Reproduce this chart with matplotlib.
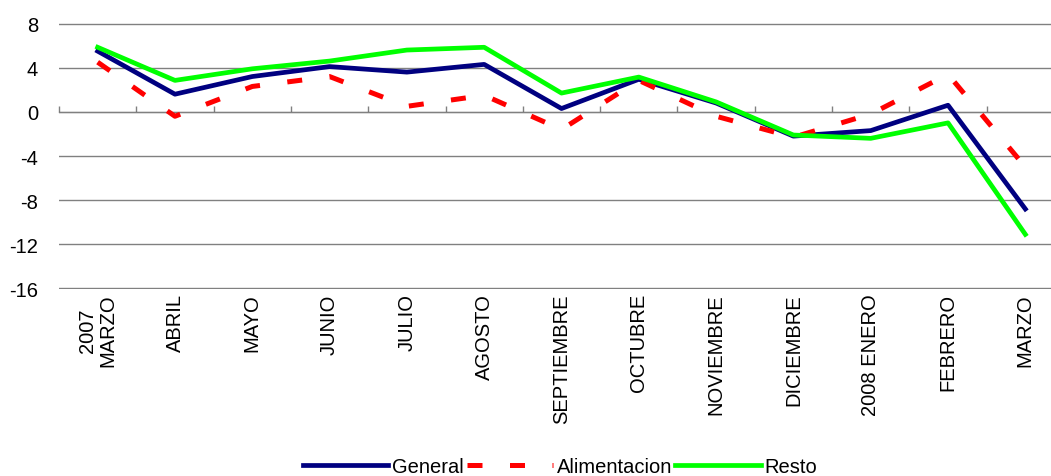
import matplotlib.pyplot as plt
import numpy as np

plt.rcParams['font.family'] = ['Liberation Sans', 'DejaVu Sans']

meses = ['2007\nMARZO', 'ABRIL', 'MAYO', 'JUNIO', 'JULIO', 'AGOSTO', 'SEPTIEMBRE',
         'OCTUBRE', 'NOVIEMBRE', 'DICIEMBRE', '2008 ENERO', 'FEBRERO', 'MARZO']
general = [5.5, 1.6, 3.2, 4.1, 3.6, 4.3, 0.3, 2.95, 0.8, -2.2, -1.7, 0.6, -8.8]
alimentacion = [4.5, -0.4, 2.3, 3.2, 0.5, 1.5, -1.6, 2.85, -0.4, -2.3, -0.2, 3.4, -5.0]
resto = [5.85, 2.85, 3.9, 4.6, 5.6, 5.85, 1.7, 3.15, 0.9, -2.1, -2.4, -1.0, -11.1]
yticks = [8, 4, 0, -4, -8, -12, -16]

W, H = 1051, 477
fig = plt.figure(figsize=(W/100, H/100), dpi=100)
ax = fig.add_axes([59/W, 1-290/H, (1064-59)/W, (290-24)/H])

x = np.arange(len(meses))
ax.plot(x, general, color='#000080', lw=3.4, label='General', zorder=3)
ax.plot(x, alimentacion, color='#ff0000', lw=3.6, dashes=(3.0, 5.5), label='Alimentacion', zorder=3)
ax.plot(x, resto, color='#00ff00', lw=3.4, label='Resto', zorder=4)

ax.set_xlim(-0.5, len(meses)-0.5)
ax.set_ylim(-16.05, 8.05)
ax.set_yticks(yticks)
ax.set_yticklabels([str(v) for v in yticks])
ax.yaxis.grid(True, color='#808080', lw=1)
ax.set_axisbelow(True)
for s in ax.spines.values():
    s.set_visible(False)
ax.tick_params(axis='y', length=0, pad=15, labelsize=14.5)
ax.tick_params(axis='x', length=0, pad=3, labelsize=14.5)
ax.set_xticks(x)
ax.set_xticklabels(meses, rotation=90, va='top', ha='center', multialignment='center',
                   linespacing=1.1)

# eje en el cero con marcas entre categorias
sec = ax.secondary_xaxis(16.05/24.1)
sec.set_xticks(np.arange(len(meses)+1) - 0.5)
sec.set_xticklabels([])
sec.tick_params(length=4, width=1, color='#808080', direction='out')
sec.spines['bottom'].set_color('#808080')
sec.spines['bottom'].set_linewidth(1.2)

fig.legend(loc='center', bbox_to_anchor=(560/W, 9/H), ncol=3, frameon=False,
           fontsize=14.5, handlelength=4.25, handletextpad=0.2, columnspacing=0.15)

fig.savefig('out.png', dpi=100)
